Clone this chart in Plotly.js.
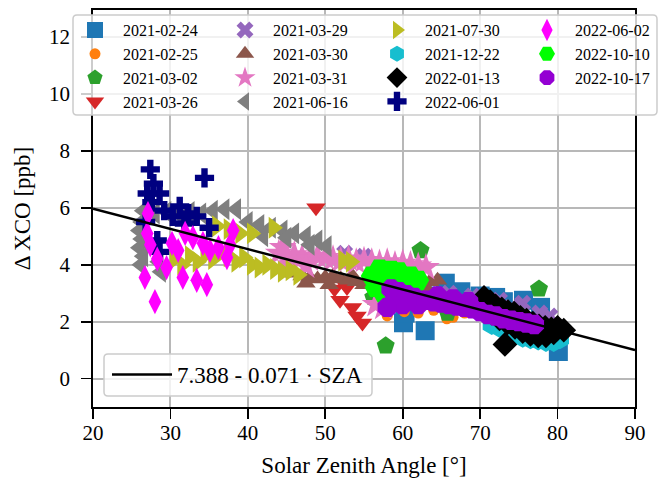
<!DOCTYPE html>
<html>
<head>
<meta charset="utf-8">
<script src="https://cdn.plot.ly/plotly-3.0.1.min.js"></script>
<style>html,body{margin:0;padding:0;background:#fff;}#chart{width:662px;height:485px;}</style>
</head>
<body>
<div id="chart"></div>
<script>
// ---- data ----
const dates = ["2021-02-24","2021-02-25","2021-03-02","2021-03-26","2021-03-29","2021-03-30","2021-03-31","2021-06-16","2021-07-30","2021-12-22","2022-01-13","2022-06-01","2022-06-02","2022-10-10","2022-10-17"];

const x_20210224 = [60.1, 62.9, 65.5, 67.5, 70.0, 72.0, 73.0, 75.6, 77.8, 80.1, 79.8, 61.0, 63.0, 66.0, 68.0, 74.0, 76.0, 78.0, 79.0, 60.3];
const y_20210224 = [1.96, 1.68, 3.35, 3.05, 2.9, 2.85, 2.7, 2.75, 2.5, 0.95, 1.35, 2.5, 2.9, 2.8, 2.6, 2.3, 2.0, 1.8, 1.5, 2.3];

const x_20210225 = [58.0, 60.2, 65.7, 66.5, 62.0, 64.0, 68.0, 70.0, 72.0];
const y_20210225 = [2.2, 2.35, 2.1, 2.15, 2.3, 2.4, 2.3, 2.4, 2.2];

const x_20210302 = [62.3, 77.6, 57.8, 56.2, 65.8, 71.5, 75.0];
const y_20210302 = [4.5, 3.15, 1.15, 2.85, 2.3, 2.6, 2.5];

const x_20210326 = [48.8, 51.2, 52.8, 51.9, 53.5, 54.1, 54.8, 52.3];
const y_20210326 = [6.0, 3.15, 3.2, 2.75, 2.5, 2.2, 1.95, 3.4];

const x_20210329 = [52.5, 55.0, 66.0, 69.0, 72.5, 75.5, 77.7, 79.0, 74.0, 62.0];
const y_20210329 = [4.4, 4.3, 3.0, 2.9, 2.75, 2.65, 2.3, 2.2, 2.5, 3.2];

const x_20210330 = [46, 47, 48, 49, 50, 51, 52, 53, 54, 55, 56, 57, 47.5, 50.5, 53.5, 62.5, 63.5, 64.5, 63, 58, 60];
const y_20210330 = [3.7, 3.6, 3.55, 3.5, 3.55, 3.6, 3.5, 3.45, 3.4, 3.3, 3.3, 3.2, 3.35, 3.3, 3.6, 3.35, 3.4, 3.45, 3.2, 3.3, 3.4];

const x_20210331 = [44, 45, 46, 47, 48, 49, 50, 51, 52, 53, 54, 55, 56, 57, 58, 59, 60, 61, 62, 63, 45.5, 47.5, 56.5, 57.5, 44.5];
const y_20210331 = [4.4, 4.3, 4.35, 4.25, 4.2, 4.3, 4.25, 4.2, 4.15, 4.2, 4.1, 4.15, 4.1, 4.05, 4.1, 4.0, 4.05, 4.0, 3.95, 3.9, 4.0, 3.95, 2.6, 2.5, 4.6];

const x_20210616 = [26.5, 26.3, 26.0, 26.3, 26.0, 26.5, 26.2, 28.8, 28.5, 28.0, 29.5, 31.0, 32.5, 34.0, 35.5, 37.0, 38.5, 40.0, 41.5, 43.0, 44.5, 46.0, 47.5, 49.0, 50.2, 42.0, 45.0, 48.0];
const y_20210616 = [5.9, 5.5, 5.2, 4.9, 4.6, 4.3, 4.0, 3.75, 4.1, 5.8, 5.85, 5.8, 5.85, 5.8, 5.9, 5.95, 5.95, 5.5, 5.4, 5.3, 5.2, 5.1, 5.0, 4.85, 4.65, 5.0, 4.95, 4.7];

const x_20210730 = [30.5, 31.5, 32.5, 33.5, 34.5, 35.5, 36.5, 37.5, 38.5, 39.5, 40.5, 41.5, 42.5, 43.5, 44.5, 45.5, 46.5, 36.0, 37.5, 39.0, 40.5, 43.3, 52.3, 53.3];
const y_20210730 = [4.2, 4.0, 4.3, 4.1, 4.35, 4.2, 4.45, 4.3, 4.1, 4.25, 4.0, 3.9, 4.0, 3.85, 3.75, 3.8, 3.65, 5.35, 5.25, 5.1, 5.1, 5.3, 4.15, 4.1];

const x_20211222 = [71.5, 72.5, 73.5, 74.5, 75.5, 76.5, 77.5, 78.5, 79.5, 80.3, 73.0, 76.0, 78.0];
const y_20211222 = [1.9, 1.8, 1.7, 1.55, 1.45, 1.4, 1.35, 1.3, 1.3, 1.4, 2.1, 1.7, 1.6];

const x_20220113 = [70.5, 71.3, 72.0, 72.8, 73.6, 74.4, 75.2, 76.0, 76.8, 77.6, 78.4, 79.2, 80.0, 80.8, 71.5, 72.5, 73.5, 74.5, 75.5, 76.5, 77.5, 78.5, 79.5, 73.2];
const y_20220113 = [2.85, 2.7, 2.55, 2.45, 2.35, 2.3, 2.15, 2.05, 1.95, 1.85, 1.8, 1.75, 1.8, 1.7, 2.3, 2.1, 1.95, 1.8, 1.65, 1.55, 1.5, 1.5, 1.6, 1.2];

const x_20220601 = [27.4, 27.8, 27.0, 28.6, 27.6, 34.4, 31.2, 30.3, 32.3, 33.4, 35.0, 28.6, 26.8, 31.8, 29.2, 28.3];
const y_20220601 = [7.35, 6.85, 6.5, 6.5, 6.2, 7.05, 6.05, 5.7, 5.8, 5.7, 5.3, 4.45, 5.5, 5.45, 5.9, 4.85];

const x_20220602 = [27.1, 27.0, 27.4, 26.7, 28.0, 28.3, 30.2, 31.0, 31.6, 31.9, 32.9, 33.4, 34.2, 34.7, 35.1, 36.2, 37.3, 37.7, 38.1, 29.5];
const y_20220602 = [5.8, 5.1, 4.7, 3.55, 2.7, 4.2, 4.75, 4.5, 3.55, 5.1, 4.95, 3.45, 4.75, 3.3, 4.5, 4.6, 4.25, 4.7, 5.2, 3.9];

const x_20221010 = [56.0, 56.5, 57.0, 57.5, 58.0, 58.5, 59.0, 59.5, 60.0, 61.0, 61.5, 62.0];
const y_20221010 = [3.6, 3.2, 3.85, 3.0, 3.5, 3.8, 3.3, 3.75, 3.5, 3.6, 3.3, 3.45];

const x_20221017 = [58.5, 59.0, 59.5, 60.0, 60.5, 61.5, 62.0, 63.0, 64.0, 65.0, 66.0, 67.0, 68.0, 69.0, 70.0, 71.0, 72.0, 73.0, 74.0, 75.0, 76.0, 77.0, 64.5, 66.5, 68.5, 58.0];
const y_20221017 = [3.15, 2.75, 3.05, 2.6, 2.95, 2.85, 2.6, 2.75, 2.7, 2.65, 2.6, 2.55, 2.5, 2.45, 2.35, 2.25, 2.2, 2.1, 2.05, 2.0, 1.95, 1.9, 2.9, 2.8, 2.7, 2.5];

const fitX = [20, 90];
const fitY = [5.968, 0.998];
const fitLabel = "7.388 - 0.071 · SZA";

const xTicks = [20, 30, 40, 50, 60, 70, 80, 90];
const yTicks = [0, 2, 4, 6, 8, 10, 12];

// ---- styling ----
const seriesX = [x_20210224, x_20210225, x_20210302, x_20210326, x_20210329, x_20210330, x_20210331, x_20210616, x_20210730, x_20211222, x_20220113, x_20220601, x_20220602, x_20221010, x_20221017];
const seriesY = [y_20210224, y_20210225, y_20210302, y_20210326, y_20210329, y_20210330, y_20210331, y_20210616, y_20210730, y_20211222, y_20220113, y_20220601, y_20220602, y_20221010, y_20221017];
const colors = ["#1f77b4","#ff7f0e","#2ca02c","#d62728","#9467bd","#8c564b","#e377c2","#7f7f7f","#bcbd22","#17becf","#000000","#000080","#ff00ff","#00ff00","#9400d3"];
const symbols = ["square","circle","pentagon","triangle-down","x","triangle-up","star","triangle-left","triangle-right","hexagon","diamond","cross","diamond-tall","hexagon2","octagon"];
const sizes = [19, 11, 19, 17, 15, 17, 21, 19, 19, 21, 19, 16, 18, 22, 21];

const W = 662, H = 485, L = 93, R = 635, T = 10, B = 407;
const px2x = p => (p - L) / (R - L);
const py2y = p => (B - p) / (B - T);

const FONT = "Liberation Serif, Times New Roman, serif";
const traces = [];
for (let i = 0; i < dates.length; i++) {
  const col = Math.floor(i / 4);
  traces.push({
    type: "scatter", mode: "markers", name: dates[i],
    x: seriesX[i], y: seriesY[i],
    marker: {symbol: symbols[i], size: sizes[i], color: colors[i], line: {width: 0}},
    legend: col === 0 ? "legend" : "legend" + (col + 1),
    hoverinfo: "skip"
  });
}
traces.push({
  type: "scatter", mode: "lines", name: fitLabel,
  x: fitX, y: fitY, line: {color: "#000", width: 2.5},
  legend: "legend5", hoverinfo: "skip"
});

function rrect(x0, y0, x1, y1, r) {
  const X = p => px2x(p).toFixed(5), Y = p => py2y(p).toFixed(5);
  return "M" + X(x0 + r) + "," + Y(y0) +
    " L" + X(x1 - r) + "," + Y(y0) + " Q" + X(x1) + "," + Y(y0) + " " + X(x1) + "," + Y(y0 + r) +
    " L" + X(x1) + "," + Y(y1 - r) + " Q" + X(x1) + "," + Y(y1) + " " + X(x1 - r) + "," + Y(y1) +
    " L" + X(x0 + r) + "," + Y(y1) + " Q" + X(x0) + "," + Y(y1) + " " + X(x0) + "," + Y(y1 - r) +
    " L" + X(x0) + "," + Y(y0 + r) + " Q" + X(x0) + "," + Y(y0) + " " + X(x0 + r) + "," + Y(y0) + " Z";
}

const legFont = {family: FONT, size: 16, color: "#000"};
const legCommon = {bgcolor: "rgba(0,0,0,0)", borderwidth: 0, font: legFont, itemwidth: 46,
  xanchor: "left", yanchor: "top", orientation: "v", tracegroupgap: 0, itemclick: false, itemdoubleclick: false};
const colX = [67, 217, 369, 519];
const legTop = 13.1;

const layout = {
  width: W, height: H,
  margin: {l: L, r: W - R, t: T, b: H - B, autoexpand: false},
  paper_bgcolor: "#fff", plot_bgcolor: "#fff",
  font: {family: FONT, color: "#000"},
  showlegend: true,
  xaxis: {
    range: [20, 90], tickvals: xTicks, ticktext: xTicks.map(String),
    showgrid: true, gridcolor: "#b8b8b8", gridwidth: 2, zeroline: false,
    showline: true, linecolor: "#000", linewidth: 1.8, mirror: true,
    ticks: "outside", ticklen: 10, tickwidth: 1.8, tickcolor: "#000", ticklabelstandoff: -4,
    tickfont: {family: FONT, size: 21, color: "#000"},
    title: {text: "Solar Zenith Angle [°]", font: {family: FONT, size: 23, color: "#000"}, standoff: 13},
    automargin: false
  },
  yaxis: {
    range: [-1.0, 12.95], tickvals: yTicks, ticktext: yTicks.map(String),
    showgrid: true, gridcolor: "#b8b8b8", gridwidth: 2, zeroline: false,
    showline: true, linecolor: "#000", linewidth: 1.8, mirror: true,
    ticks: "outside", ticklen: 10, tickwidth: 1.8, tickcolor: "#000", ticklabelstandoff: 7,
    tickfont: {family: FONT, size: 21, color: "#000"},
    title: {text: "Δ XCO [ppb]", font: {family: FONT, size: 23, color: "#000"}, standoff: 12},
    automargin: true
  },
  legend:  Object.assign({}, legCommon, {x: px2x(colX[0]), y: py2y(legTop)}),
  legend2: Object.assign({}, legCommon, {x: px2x(colX[1]), y: py2y(legTop)}),
  legend3: Object.assign({}, legCommon, {x: px2x(colX[2]), y: py2y(legTop)}),
  legend4: Object.assign({}, legCommon, {x: px2x(colX[3]), y: py2y(legTop)}),
  legend5: Object.assign({}, legCommon, {x: px2x(107), y: py2y(353), itemwidth: 60,
    font: {family: FONT, size: 23, color: "#000"}}),
  shapes: [
    {type: "path", xref: "paper", yref: "paper", layer: "above", path: rrect(73, 15, 657, 115, 4),
     fillcolor: "rgba(255,255,255,0.8)", line: {color: "#cccccc", width: 1.5}},
    {type: "path", xref: "paper", yref: "paper", layer: "above", path: rrect(104, 354, 372, 396, 4),
     fillcolor: "rgba(255,255,255,0.8)", line: {color: "#cccccc", width: 1.5}}
  ]
};

Plotly.newPlot("chart", traces, layout, {staticPlot: true, displayModeBar: false});
</script>
</body>
</html>
